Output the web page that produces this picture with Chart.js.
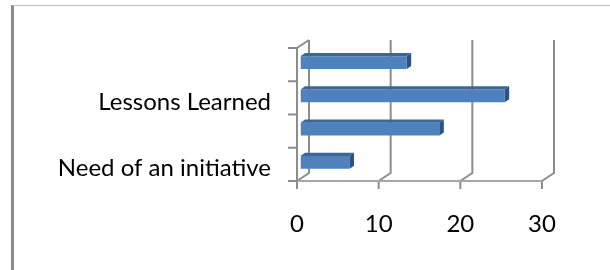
<!DOCTYPE html>
<html>
<head>
<meta charset="utf-8">
<script src="https://cdn.jsdelivr.net/npm/chart.js@4/dist/chart.umd.min.js"></script>
<style>
  html, body { margin: 0; padding: 0; background: #fff; }
  #wrap { position: relative; width: 610px; height: 270px; overflow: hidden; }
  #frame {
    position: absolute; left: 11px; top: 5px; width: 596px; height: 280px;
    border-left: 3px solid #8a8a8a; border-top: 1px solid #bdbdbd; border-right: 1px solid #bdbdbd;
  }
  canvas { position: absolute; left: 0; top: 0; }
</style>
</head>
<body>
<div id="wrap">
  <div id="frame"></div>
  <canvas id="chart" width="610" height="270"></canvas>
</div>
<script>
// categories top to bottom (only every other one carries a label in the picture)
const categories = ["", "Lessons Learned", "", "Need of an initiative"];
const values = [13, 25, 17, 6];
const xTicks = [0, 10, 20, 30];

const depthX = 12, depthY = 8;      // back wall offset
const barShiftX = 3.5, barShiftY = -2; // bars sit a bit behind the front plane
const barDX = 4.5, barDY = 3.2;     // bar thickness

const wallsPlugin = {
  id: "walls",
  beforeDatasetsDraw(chart) {
    const ctx = chart.ctx;
    const xs = chart.scales.x;
    const top = chart.chartArea.top, bottom = chart.chartArea.bottom;
    ctx.save();
    ctx.lineWidth = 2;
    ctx.strokeStyle = "#8c8c8c";
    // back wall grid + floor diagonals + front ticks
    xTicks.forEach((v) => {
      const x = xs.getPixelForValue(v);
      ctx.beginPath();
      ctx.moveTo(x + depthX, top - depthY);
      ctx.lineTo(x + depthX, bottom - depthY);
      ctx.lineTo(x, bottom);
      ctx.lineTo(x, bottom + 8);
      ctx.stroke();
    });
    // front floor edge
    ctx.strokeStyle = "#a6a6a6";
    ctx.beginPath();
    ctx.moveTo(xs.getPixelForValue(0), bottom);
    ctx.lineTo(xs.getPixelForValue(30), bottom);
    ctx.stroke();
    // side wall front edge and top
    const x0 = xs.getPixelForValue(0);
    ctx.strokeStyle = "#8c8c8c";
    ctx.beginPath();
    ctx.moveTo(x0 + depthX, top - depthY);
    ctx.lineTo(x0, top);
    ctx.lineTo(x0, bottom);
    ctx.stroke();
    // category ticks
    for (let i = 0; i <= categories.length; i++) {
      const y = top + (bottom - top) * i / categories.length;
      ctx.beginPath();
      ctx.moveTo(x0 - 9, y);
      ctx.lineTo(x0, y);
      ctx.stroke();
    }
    ctx.restore();
    ctx.save();
    ctx.translate(barShiftX, barShiftY);
  },
  afterDatasetsDraw(chart) {
    const ctx = chart.ctx;
    chart.getDatasetMeta(0).data.forEach((el) => {
      const p = el.getProps(["x", "y", "base", "height"], true);
      const yTop = p.y - p.height / 2, yBot = p.y + p.height / 2;
      // top face
      ctx.fillStyle = "#3d6698";
      ctx.beginPath();
      ctx.moveTo(p.base, yTop);
      ctx.lineTo(p.base + barDX, yTop - barDY);
      ctx.lineTo(p.x + barDX, yTop - barDY);
      ctx.lineTo(p.x, yTop);
      ctx.closePath();
      ctx.fill();
      // side face
      ctx.fillStyle = "#2e5283";
      ctx.beginPath();
      ctx.moveTo(p.x, yTop);
      ctx.lineTo(p.x + barDX, yTop - barDY);
      ctx.lineTo(p.x + barDX, yBot - barDY);
      ctx.lineTo(p.x, yBot);
      ctx.closePath();
      ctx.fill();
    });
    ctx.restore();
  }
};

new Chart(document.getElementById("chart"), {
  type: "bar",
  data: {
    labels: categories,
    datasets: [{
      data: values,
      backgroundColor: "#4f81bd",
      borderWidth: 0,
      barPercentage: 0.39,
      categoryPercentage: 1
    }]
  },
  options: {
    indexAxis: "y",
    responsive: false,
    animation: false,
    events: [],
    layout: { padding: { left: 0, right: 68, top: 48, bottom: 29 } },
    plugins: { legend: { display: false }, tooltip: { enabled: false }, title: { display: false } },
    scales: {
      x: {
        min: 0, max: 30,
        grid: { display: false, drawTicks: false },
        border: { display: false },
        ticks: { stepSize: 10, padding: 29, color: "#000", font: { family: "Lato", size: 24 } },
        afterFit: (s) => { s.height = 60; }
      },
      y: {
        grid: { display: false, drawTicks: false },
        border: { display: false },
        ticks: { autoSkip: false, padding: 26, labelOffset: 4, color: "#000", font: { family: "Lato", size: 24 } },
        afterFit: (s) => { s.width = 297; }
      }
    }
  },
  plugins: [wallsPlugin]
});
</script>
</body>
</html>
